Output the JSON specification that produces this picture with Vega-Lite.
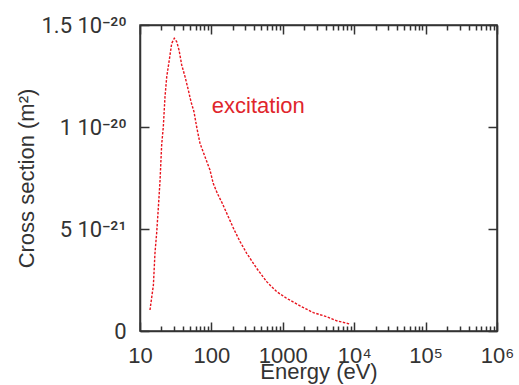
{
  "$schema": "https://vega.github.io/schema/vega-lite/v6.json",
  "width": 357,
  "height": 306,
  "autosize": {"type": "none"},
  "padding": {"left": 140, "top": 25, "right": 22, "bottom": 54},
  "background": "white",
  "config": {
    "view": {"stroke": "#333", "strokeWidth": 1.5},
    "font": "Liberation Sans",
    "axis": {
      "domainColor": "#333", "domainWidth": 1.5,
      "tickColor": "#333", "tickWidth": 1.5,
      "labelFont": "Liberation Sans", "labelFontSize": 22, "labelColor": "#333",
      "titleFont": "Liberation Sans", "titleFontSize": 22, "titleColor": "#333", "titleFontWeight": "normal",
      "grid": false, "labelOverlap": false, "labelFlush": false, "labelBound": false
    }
  },
  "datasets": {
    "curve": [
      {"E": 13.8, "sigma": 1.03e-21},
      {"E": 15.4, "sigma": 2.25e-21},
      {"E": 16.2, "sigma": 3.81e-21},
      {"E": 17.1, "sigma": 4.79e-21},
      {"E": 18.1, "sigma": 6.09e-21},
      {"E": 19.1, "sigma": 7.40e-21},
      {"E": 20.1, "sigma": 9.12e-21},
      {"E": 21.2, "sigma": 1.00e-20},
      {"E": 22.4, "sigma": 1.149e-20},
      {"E": 23.7, "sigma": 1.247e-20},
      {"E": 25.7, "sigma": 1.328e-20},
      {"E": 27.8, "sigma": 1.41e-20},
      {"E": 30.2, "sigma": 1.435e-20},
      {"E": 32.7, "sigma": 1.418e-20},
      {"E": 35.2, "sigma": 1.377e-20},
      {"E": 38.4, "sigma": 1.304e-20},
      {"E": 42.7, "sigma": 1.247e-20},
      {"E": 47.5, "sigma": 1.181e-20},
      {"E": 51.8, "sigma": 1.124e-20},
      {"E": 57.0, "sigma": 1.075e-20},
      {"E": 62.2, "sigma": 1.0e-20},
      {"E": 69.2, "sigma": 9.20e-21},
      {"E": 81.3, "sigma": 8.54e-21},
      {"E": 95.5, "sigma": 7.89e-21},
      {"E": 106, "sigma": 7.24e-21},
      {"E": 121, "sigma": 6.75e-21},
      {"E": 142, "sigma": 6.26e-21},
      {"E": 207, "sigma": 4.98e-21},
      {"E": 252, "sigma": 4.38e-21},
      {"E": 312, "sigma": 3.81e-21},
      {"E": 431, "sigma": 3.07e-21},
      {"E": 594, "sigma": 2.42e-21},
      {"E": 820, "sigma": 1.93e-21},
      {"E": 1134, "sigma": 1.60e-21},
      {"E": 1841, "sigma": 1.19e-21},
      {"E": 2675, "sigma": 0.90e-21},
      {"E": 4120, "sigma": 0.70e-21},
      {"E": 5690, "sigma": 0.50e-21},
      {"E": 8730, "sigma": 0.34e-21}
    ],
    "label": [
      {"E": 454, "sigma": 1.067e-20, "text": "excitation"}
    ]
  },
  "resolve": {"axis": {"x": "independent", "y": "independent"}},
  "layer": [
    {
      "data": {"name": "curve"},
      "mark": {"type": "line", "color": "#e8141e", "strokeWidth": 1.4, "strokeDash": [2.5, 1.5]},
      "encoding": {
        "x": {
          "field": "E", "type": "quantitative",
          "scale": {"type": "log", "domain": [10, 1000000], "nice": false},
          "axis": {
            "orient": "bottom",
            "title": "Energy (eV)",
            "titlePadding": -9,
            "values": [10,20,30,40,50,60,70,80,90,100,200,300,400,500,600,700,800,900,1000,2000,3000,4000,5000,6000,7000,8000,9000,10000,20000,30000,40000,50000,60000,70000,80000,90000,100000,200000,300000,400000,500000,600000,700000,800000,900000,1000000],
            "labelExpr": "datum.value == 10 ? '10' : datum.value == 100 ? '100' : datum.value == 1000 ? '1000' : datum.value == 10000 ? '10⁴' : datum.value == 100000 ? '10⁵' : datum.value == 1000000 ? '10⁶' : ''",
            "tickSize": {"condition": {"test": "indexof([10,100,1000,10000,100000,1000000], datum.value) >= 0", "value": -9}, "value": -5},
            "labelPadding": 23
          }
        },
        "y": {
          "field": "sigma", "type": "quantitative",
          "scale": {"domain": [0, 1.5e-20], "nice": false, "zero": true},
          "axis": {
            "orient": "left",
            "title": "Cross section (m²)",
            "titlePadding": 2,
            "values": [0, 5e-21, 1e-20, 1.5e-20],
            "labelFont": "Roboto",
            "labelExpr": "round(datum.value*1e21) == 0 ? '0' : round(datum.value*1e21) == 5 ? '5 10⁻²¹' : round(datum.value*1e21) == 10 ? '1 10⁻²⁰' : '1.5 10⁻²⁰'",
            "tickSize": -9,
            "labelPadding": 23
          }
        }
      }
    },
    {
      "data": {"name": "label"},
      "mark": {"type": "text", "color": "#e0252b", "fontSize": 22, "font": "Liberation Sans", "align": "center", "baseline": "alphabetic"},
      "encoding": {
        "x": {
          "field": "E", "type": "quantitative",
          "scale": {"type": "log", "domain": [10, 1000000], "nice": false},
          "axis": {
            "orient": "top", "title": null, "labels": false,
            "values": [10,20,30,40,50,60,70,80,90,100,200,300,400,500,600,700,800,900,1000,2000,3000,4000,5000,6000,7000,8000,9000,10000,20000,30000,40000,50000,60000,70000,80000,90000,100000,200000,300000,400000,500000,600000,700000,800000,900000,1000000],
            "tickSize": {"condition": {"test": "indexof([10,100,1000,10000,100000,1000000], datum.value) >= 0", "value": -9}, "value": -5}
          }
        },
        "y": {
          "field": "sigma", "type": "quantitative",
          "scale": {"domain": [0, 1.5e-20], "nice": false},
          "axis": {"orient": "right", "title": null, "labels": false, "values": [0, 5e-21, 1e-20, 1.5e-20], "tickSize": -9}
        },
        "text": {"field": "text", "type": "nominal"}
      }
    }
  ]
}
